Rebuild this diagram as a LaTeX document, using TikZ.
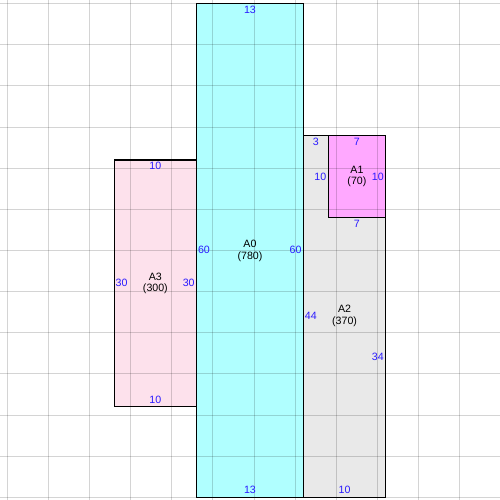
\documentclass[tikz,border=0pt]{standalone}
\usepackage{fontspec}
\setmainfont{Liberation Sans}
\definecolor{roomcyan}{HTML}{B0FFFF}
\definecolor{roompink}{HTML}{FDE1EC}
\definecolor{roomgray}{HTML}{E9E9E9}
\definecolor{roommagenta}{HTML}{FFA8FF}
\definecolor{dimblue}{HTML}{2A1AFF}

\begin{document}
\begin{tikzpicture}[x=0.2177cm,y=-0.2177cm,
  room/.style={draw=black,line width=0.8pt},
  gridline/.style={black,opacity=0.17,line width=0.75pt},
  dim/.style={text=dimblue,font=\fontsize{8}{9}\selectfont,inner sep=0pt},
  tag/.style={align=center,font=\fontsize{8}{9}\selectfont,inner sep=0pt}]
  \useasboundingbox (-0.887,-0.45) rectangle (59.89,60.33);

  % room fills
  \fill[roomcyan] (23,0) rectangle (36,60);
  \fill[roompink] (13,19) rectangle (23,49);
  \fill[roomgray] (36,16) rectangle (46,60);
  \fill[roommagenta] (39,16) rectangle (46,26);

  % grid
  \foreach \g in {0,5,...,55}
    \draw[gridline] (\g,-0.45) -- (\g,60.33);
  \foreach \g in {0,5,...,60}
    \draw[gridline] (-0.887,\g) -- (59.89,\g);

  % room borders
  \draw[room] (23,0) rectangle (36,60);
  \draw[room] (13,19) rectangle (23,49);
  \draw[room] (36,16) rectangle (46,60);
  \draw[room] (39,16) rectangle (46,26);

  % A0
  \node[tag] (a0) at (29.5,30) {A0\\(780)};
  \node[dim] (a0top) at (29.5,0.8) {13};
  \node[dim] (a0bot) at (29.5,59.15) {13};
  \node[dim] (a0left) at (23.9,29.9) {60};
  \node[dim] (a0right) at (35.05,29.9) {60};

  % A3
  \node[tag] (a3) at (18,34) {A3\\(300)};
  \node[dim] (a3top) at (18,19.75) {10};
  \node[dim] (a3bot) at (18,48.2) {10};
  \node[dim] (a3left) at (13.9,33.9) {30};
  \node[dim] (a3right) at (22.05,33.9) {30};

  % A2
  \node[tag] (a2) at (41,38) {A2\\(370)};
  \node[dim] (a2top) at (37.5,16.8) {3};
  \node[dim] (a2inner) at (38.05,21.1) {10};
  \node[dim] (a2under) at (42.5,26.8) {7};
  \node[dim] (a2left) at (36.9,38) {44};
  \node[dim] (a2right) at (45.05,42.9) {34};
  \node[dim] (a2bot) at (41,59.15) {10};

  % A1
  \node[tag] (a1) at (42.5,21) {A1\\(70)};
  \node[dim] (a1top) at (42.5,16.8) {7};
  \node[dim] (a1right) at (45.05,21.1) {10};
\end{tikzpicture}
\end{document}
